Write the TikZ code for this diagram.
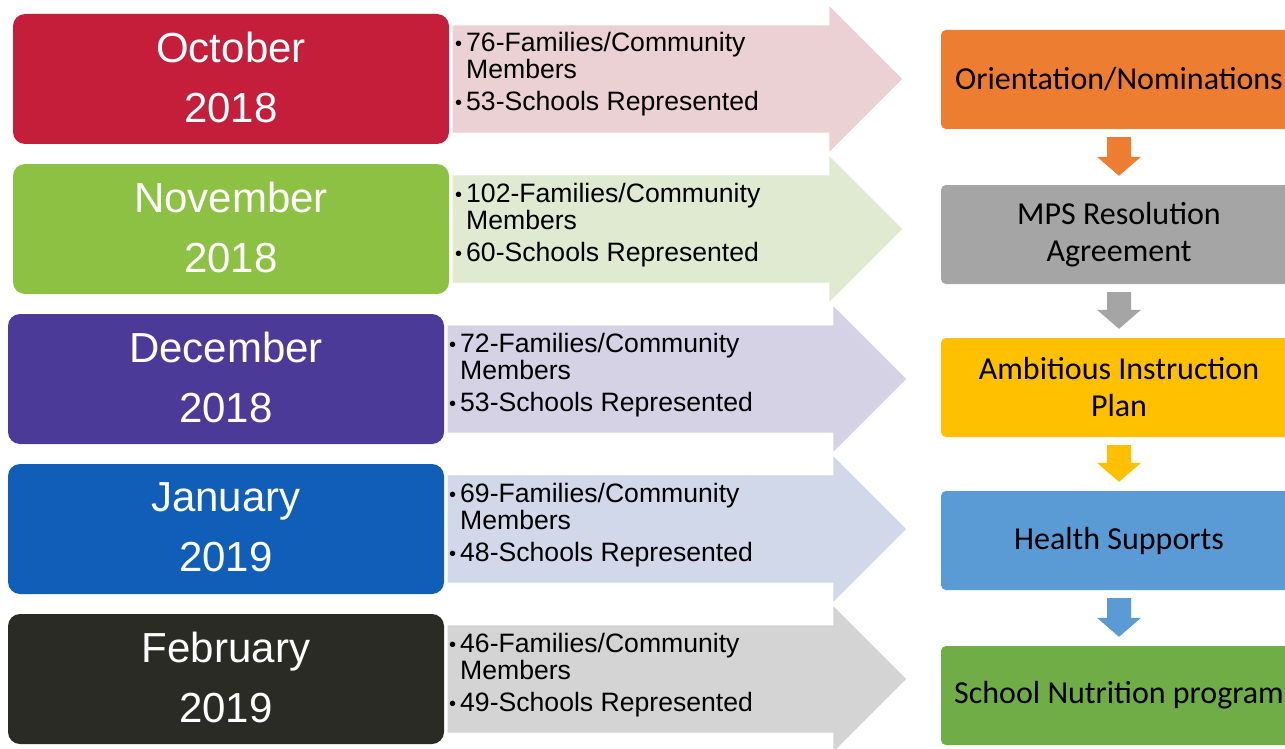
\documentclass[tikz,border=0pt]{standalone}
\usepackage{fontspec}
\setmainfont{Liberation Sans}
\newfontfamily\calfont{Carlito}
\usetikzlibrary{calc}
\definecolor{octc}{HTML}{C41E3A}
\definecolor{novc}{HTML}{8DC143}
\definecolor{decc}{HTML}{4B3A98}
\definecolor{janc}{HTML}{115EB8}
\definecolor{febc}{HTML}{2B2B26}
\definecolor{octa}{HTML}{EBD0D4}
\definecolor{nova}{HTML}{DFEAD1}
\definecolor{deca}{HTML}{D4D2E4}
\definecolor{jana}{HTML}{D0D8EA}
\definecolor{feba}{HTML}{D4D4D4}
\definecolor{s1}{HTML}{ED7D31}
\definecolor{s2}{HTML}{A5A5A5}
\definecolor{s3}{HTML}{FFC000}
\definecolor{s4}{HTML}{5B9BD5}
\definecolor{s5}{HTML}{70AD47}
\begin{document}
\begin{tikzpicture}[x=1pt,y=-1pt]
\tikzset{
 datebox/.style={rounded corners=12pt, minimum width=436pt, minimum height=130pt, inner sep=0pt, text=white, font=\fontsize{42}{60}\selectfont, align=center, text depth=4pt},
 stepbox/.style={rounded corners=5pt, minimum width=356pt, minimum height=99pt, inner sep=0pt, text=black, font=\calfont\fontsize{32}{37}\selectfont, align=center},
 info/.style={anchor=base west, inner sep=0pt, font=\fontsize{26.6}{28}\selectfont, text=black},
 bigarrow/.style={draw=white, line width=0.8pt},
 downarrow/.style={draw=none},
}
\newcommand{\bul}{\makebox[11pt][l]{\fontsize{20}{20}\selectfont\raisebox{1pt}{•}}}
\useasboundingbox (0,0) rectangle (1285,749);
\clip (0,0) rectangle (1285,749);
\fill[white] (0,0) rectangle (1285,749);

% ---- date boxes
\node[datebox, fill=octc] (d1) at (231,79) {October\\2018};
\node[datebox, fill=novc] (d2) at (231,229) {November\\2018};
\node[datebox, fill=decc] (d3) at (226,379) {December\\2018};
\node[datebox, fill=janc] (d4) at (226,529) {January\\2019};
\node[datebox, fill=febc] (d5) at (226,679) {February\\2019};

% ---- big arrows
\foreach \d/\c/\hb/\cy in {d1/octa/829/79, d2/nova/829/229, d3/deca/833/379, d4/jana/833/529, d5/feba/833/679}{
  \path[bigarrow, fill=\c]
    ($(\d.east |- 0,\cy)+(3,-54)$) -- (\hb,\cy-54) -- (\hb,\cy-74) -- (\hb+74,\cy)
    -- (\hb,\cy+74) -- (\hb,\cy+54) -- ($(\d.east |- 0,\cy)+(3,54)$) -- cycle;
}

% ---- bullet texts
\node[info] (t1a) at (455,52) {\bul 76-Families/Community};
\node[info] (t1b) at (466,79) {Members};
\node[info] (t1c) at (455,111) {\bul 53-Schools Represented};

\node[info] (t2a) at (455,202) {\bul 102-Families/Community};
\node[info] (t2b) at (466,229) {Members};
\node[info] (t2c) at (455,261) {\bul 60-Schools Represented};

\node[info] (t3a) at (449,352) {\bul 72-Families/Community};
\node[info] (t3b) at (460,379) {Members};
\node[info] (t3c) at (449,411) {\bul 53-Schools Represented};

\node[info] (t4a) at (449,502) {\bul 69-Families/Community};
\node[info] (t4b) at (460,529) {Members};
\node[info] (t4c) at (449,561) {\bul 48-Schools Represented};

\node[info] (t5a) at (449,652) {\bul 46-Families/Community};
\node[info] (t5b) at (460,679) {Members};
\node[info] (t5c) at (449,711) {\bul 49-Schools Represented};

% ---- step boxes
\node[stepbox, fill=s1] (r1) at (1119,79.5) {Orientation/Nominations};
\node[stepbox, fill=s2] (r2) at (1119,234.5) {MPS Resolution\\Agreement};
\node[stepbox, fill=s3] (r3) at (1119,387.5) {Ambitious Instruction\\Plan};
\node[stepbox, fill=s4] (r4) at (1119,540.5) {Health Supports};
\node[stepbox, fill=s5] (r5) at (1119,695.5) {School Nutrition program};

% ---- down arrows
\foreach \a/\b/\c in {r1/r2/s1, r2/r3/s2, r3/r4/s3, r4/r5/s4}{
  \fill[downarrow, fill=\c]
    ($(\a.south)+(-12,8)$) -- ($(\a.south)+(12,8)$)
    -- ($(\b.north)+(12,-28)$) -- ($(\b.north)+(22,-28)$)
    -- ($(\b.north)+(0,-9)$)
    -- ($(\b.north)+(-22,-28)$) -- ($(\b.north)+(-12,-28)$) -- cycle;
}
\end{tikzpicture}
\end{document}
